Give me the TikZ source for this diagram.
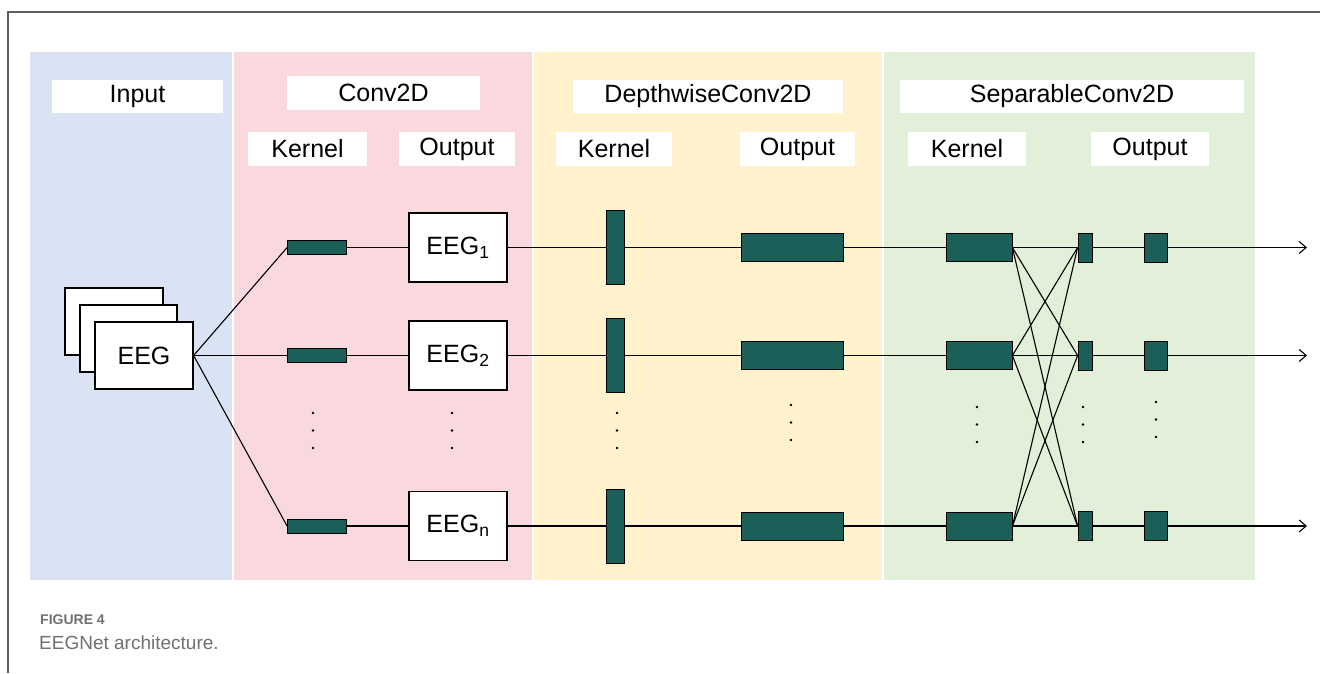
\documentclass[tikz,border=0pt]{standalone}
\usepackage{fontspec}
\setmainfont{Liberation Sans}
\usetikzlibrary{arrows.meta}
\definecolor{pblue}{HTML}{DAE3F3}
\definecolor{ppink}{HTML}{F9D9DE}
\definecolor{pyellow}{HTML}{FFF2CC}
\definecolor{pgreen}{HTML}{E2F0D9}
\definecolor{teal}{HTML}{1A5F58}
\definecolor{framegray}{HTML}{5F5F5F}
\definecolor{capgray}{HTML}{707070}
\tikzset{
  lbl/.style={fill=white, inner sep=0pt, font=\fontsize{25}{28}\selectfont, text=black},
  eegbox/.style={draw=black, line width=1.2pt, fill=white, inner sep=0pt, font=\fontsize{25}{28}\selectfont},
  bar/.style={draw=black, line width=0.8pt, fill=teal, inner sep=0pt},
  conn/.style={draw=black, line width=1.1pt},
  outarrow/.style={conn, -{Straight Barb[length=7pt,width=12pt]}},
  dot/.style={fill=black}
}
\begin{document}
\begin{tikzpicture}[x=1pt,y=-1pt]
\useasboundingbox (0,0) rectangle (1320,673);
% frame
\draw[framegray, line width=1.5pt] (8,673) -- (8,12) -- (1320,12);
% panels
\fill[pblue] (30,52) rectangle (232,580);
\fill[ppink] (233.5,52) rectangle (532,580);
\fill[pyellow] (533.5,52) rectangle (882,580);
\fill[pgreen] (883.5,52) rectangle (1255,580);
% headers
\node[lbl, minimum width=171pt, minimum height=33pt] (hin) at (137.5,96.5) {Input};
\node[lbl, minimum width=193pt, minimum height=34pt] (hconv) at (383.5,93) {Conv2D};
\node[lbl, minimum width=270pt, minimum height=33pt] (hdw) at (708,96.5) {DepthwiseConv2D};
\node[lbl, minimum width=344pt, minimum height=33pt] (hsep) at (1072,96.5) {SeparableConv2D};
\node[lbl, minimum width=119pt, minimum height=34pt] (sk1) at (307.5,149) {Kernel};
\node[lbl, minimum width=116pt, minimum height=34pt] (so1) at (457,149) {Output};
\node[lbl, minimum width=116pt, minimum height=34pt] (sk2) at (614,149) {Kernel};
\node[lbl, minimum width=115pt, minimum height=34pt] (so2) at (797.5,149) {Output};
\node[lbl, minimum width=118pt, minimum height=34pt] (sk3) at (967,149) {Kernel};
\node[lbl, minimum width=118pt, minimum height=34pt] (so3) at (1150,149) {Output};
% input stack
\node[eegbox, minimum width=98pt, minimum height=67pt] (in3) at (114,321.5) {};
\node[eegbox, minimum width=97pt, minimum height=67pt] (in2) at (128.5,338.5) {};
\node[eegbox, minimum width=98pt, minimum height=67pt] (in) at (144,355.5) {EEG};
% rows
\foreach \r/\y in {a/247.5, b/355.5, n/526} {
  \node[bar, minimum width=59pt, minimum height=14pt] (ck\r) at (317,\y) {};
  \node[bar, minimum width=18pt, minimum height=74pt] (dk\r) at (615,\y) {};
  \node[bar, minimum width=102pt, minimum height=28pt] (do\r) at (792,\y) {};
  \node[bar, minimum width=66pt, minimum height=28pt] (sk\r) at (979,\y) {};
  \node[bar, minimum width=14pt, minimum height=29pt] (ss\r) at (1085,\y) {};
  \node[bar, minimum width=23pt, minimum height=29pt] (so\r) at (1155.5,\y) {};
  \coordinate (end\r) at (1307,\y);
}
\node[eegbox, minimum width=98pt, minimum height=69pt] (eoa) at (458,247.5) {EEG\textsubscript{1}};
\node[eegbox, minimum width=98pt, minimum height=69pt] (eob) at (458,355.5) {EEG\textsubscript{2}};
\node[eegbox, minimum width=98pt, minimum height=69pt] (eon) at (458,526) {EEG\textsubscript{n}};
% connectors
\foreach \r in {a,b,n} {
  \draw[conn] (in.east) -- (ck\r.west);
  \draw[conn] (ck\r.east) -- (eo\r.west);
  \draw[conn] (eo\r.east) -- (dk\r.west);
  \draw[conn] (dk\r.east) -- (do\r.west);
  \draw[conn] (do\r.east) -- (sk\r.west);
  \draw[conn] (ss\r.east) -- (so\r.west);
  \draw[outarrow] (so\r.east) -- (end\r);
  \foreach \s in {a,b,n} {
    \draw[conn] (sk\r.east) -- (ss\s.west);
  }
}
% redraw small boxes on top
\foreach \r/\y in {a/247.5, b/355.5, n/526} {
  \node[bar, minimum width=14pt, minimum height=29pt] at (1085,\y) {};
}
% dots
\foreach \x/\y in {313/413, 452/413, 617/413, 791/405, 977/407, 1083/407, 1156/402} {
  \foreach \d in {0,17.5,35} {
    \fill[dot] (\x,\y+\d) circle (1.3pt);
  }
}
% caption
\node[anchor=west, inner sep=0pt, text=capgray, font=\bfseries\fontsize{14}{16}\selectfont] (fig) at (40,620) {FIGURE 4};
\node[anchor=west, inner sep=0pt, text=capgray, font=\fontsize{19}{22}\selectfont] (cap) at (39,643) {EEGNet architecture.};
\end{tikzpicture}
\end{document}
